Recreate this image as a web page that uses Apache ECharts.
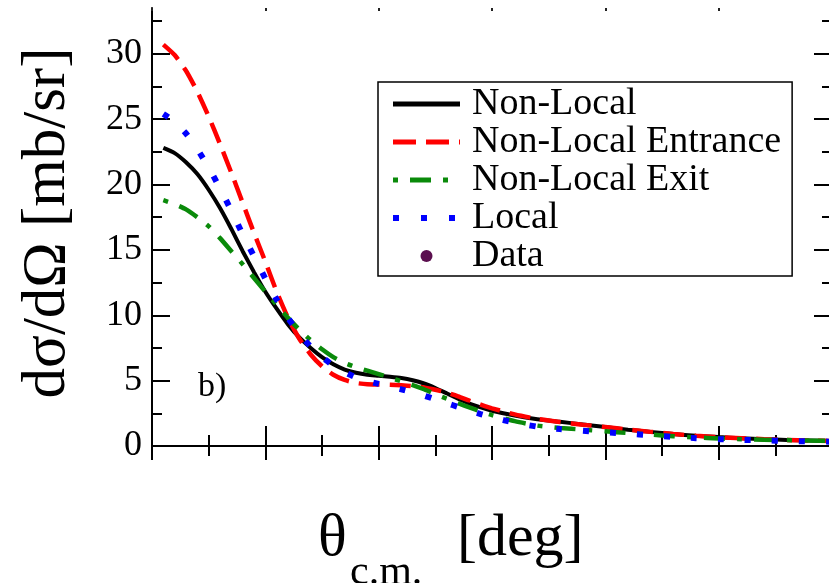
<!DOCTYPE html>
<html>
<head>
<meta charset="utf-8">
<script src="https://cdn.jsdelivr.net/npm/echarts@6/dist/echarts.min.js"></script>
<style>
  html, body { margin: 0; padding: 0; background: #fff; }
  #chart { width: 829px; height: 583px; }
</style>
</head>
<body>
<div id="chart"></div>
<script>
// Scattering angle in the centre-of-mass frame (deg)
const angles = [1, 2, 3, 4, 5, 6, 7, 8, 9, 10, 11, 12, 13, 14, 15, 16, 17, 18, 19, 20,
  21, 22, 23, 24, 25, 26, 27, 28, 29, 30, 32, 34, 36, 38, 40, 42, 44, 46, 48, 50,
  52, 54, 56, 58, 60];

// Differential cross sections (mb/sr)
const nonLocal = [22.8, 22.4, 21.7, 20.8, 19.6, 18.2, 16.6, 14.9, 13.3, 11.8, 10.5, 9.3, 8.3, 7.5, 6.8,
  6.25, 5.85, 5.6, 5.45, 5.38, 5.3, 5.2, 5.03, 4.78, 4.43, 4.03, 3.62, 3.25, 2.95, 2.7,
  2.33, 2.05, 1.85, 1.65, 1.45, 1.25, 1.08, 0.92, 0.78, 0.68, 0.6, 0.52, 0.46, 0.42, 0.38];

const nonLocalEntrance = [30.7, 29.9, 28.7, 27.1, 25.2, 23.1, 20.9, 18.6, 16.3, 14.1, 11.8, 9.8, 8.2, 7.0, 6.1,
  5.45, 5.05, 4.82, 4.72, 4.7, 4.68, 4.64, 4.58, 4.48, 4.3, 4.08, 3.8, 3.48, 3.17, 2.88,
  2.42, 2.07, 1.83, 1.63, 1.45, 1.26, 1.08, 0.92, 0.78, 0.68, 0.6, 0.52, 0.46, 0.42, 0.38];

const nonLocalExit = [18.8, 18.5, 18.1, 17.5, 16.8, 15.9, 14.9, 13.9, 12.85, 11.8, 10.8, 9.8, 8.9, 8.1, 7.4,
  6.8, 6.35, 6.02, 5.76, 5.5, 5.22, 4.95, 4.66, 4.34, 3.97, 3.62, 3.28, 2.95, 2.64, 2.36,
  1.9, 1.56, 1.38, 1.25, 1.12, 0.99, 0.87, 0.75, 0.65, 0.58, 0.52, 0.48, 0.45, 0.42, 0.4];

const local = [25.4, 24.8, 23.9, 22.7, 21.3, 19.7, 18.0, 16.2, 14.5, 12.8, 11.2, 9.8, 8.6, 7.6, 6.8,
  6.15, 5.65, 5.25, 4.97, 4.75, 4.55, 4.33, 4.1, 3.85, 3.57, 3.28, 2.99, 2.7, 2.44, 2.2,
  1.78, 1.48, 1.3, 1.17, 1.05, 0.94, 0.82, 0.7, 0.6, 0.52, 0.47, 0.43, 0.38, 0.35, 0.33];

// No measured points are plotted in this panel
const measured = [];

// Tick values
const yMajorTicks = [0, 5, 10, 15, 20, 25, 30];
const yMinorTicks = [2.5, 7.5, 12.5, 17.5, 22.5, 27.5, 32.5];

// Dash patterns
const dashEntrance = [21, 10];
const dashExit = [5, 12, 21, 12];
const dashLocal = [6, 21];

const serif = "'Liberation Serif', 'Times New Roman', serif";
const pairs = (ys) => angles.map((a, i) => [a, ys[i]]);

const chart = echarts.init(document.getElementById('chart'), null, { renderer: 'canvas' });

const yCommon = { type: 'value', min: 0, max: 33.5, splitLine: { show: false } };
const xCommon = { type: 'value', min: 0, max: 60, interval: 10, splitLine: { show: false }, minorSplitLine: { show: false } };
const black = '#000';

chart.setOption({
  animation: false,
  backgroundColor: '#fff',
  grid: { left: 152, top: 8, right: -3, bottom: 137, outerBoundsMode: 'none', containLabel: false },
  xAxis: [
    Object.assign({}, xCommon, {
      position: 'bottom',
      axisLine: { show: true, onZero: false, lineStyle: { color: black, width: 2 } },
      axisTick: { show: true, inside: true, length: 20, lineStyle: { color: black, width: 2 } },
      minorTick: { show: true, splitNumber: 2, length: 11, lineStyle: { color: black, width: 2 } },
      axisLabel: { show: false }
    }),
    Object.assign({}, xCommon, {
      position: 'bottom',
      axisLine: { show: false, onZero: false },
      axisTick: { show: true, inside: false, length: 14, lineStyle: { color: black, width: 2 } },
      minorTick: { show: true, splitNumber: 2, length: 10, lineStyle: { color: black, width: 2 } },
      axisLabel: { show: false }
    }),
    Object.assign({}, xCommon, {
      position: 'top',
      axisLine: { show: false, onZero: false },
      axisTick: { show: true, inside: true, length: 3, lineStyle: { color: '#222', width: 2 } },
      axisLabel: { show: false }
    })
  ],
  yAxis: [
    Object.assign({}, yCommon, {
      position: 'left',
      axisLine: { show: true, onZero: false, lineStyle: { color: black, width: 2 } },
      axisTick: { show: true, inside: true, length: 18, customValues: yMajorTicks, lineStyle: { color: black, width: 2 } },
      axisLabel: { show: true, customValues: yMajorTicks, margin: 10, color: black, fontFamily: serif, fontSize: 36 }
    }),
    Object.assign({}, yCommon, {
      position: 'left',
      axisLine: { show: false, onZero: false },
      axisTick: { show: true, inside: true, length: 10, customValues: yMinorTicks, lineStyle: { color: black, width: 2 } },
      axisLabel: { show: false }
    }),
    Object.assign({}, yCommon, {
      position: 'right',
      axisLine: { show: true, onZero: false, lineStyle: { color: black, width: 2 } },
      axisTick: { show: true, inside: true, length: 18, customValues: yMajorTicks, lineStyle: { color: black, width: 2 } },
      axisLabel: { show: false }
    }),
    Object.assign({}, yCommon, {
      position: 'right',
      axisLine: { show: false, onZero: false },
      axisTick: { show: true, inside: true, length: 10, customValues: yMinorTicks, lineStyle: { color: black, width: 2 } },
      axisLabel: { show: false }
    })
  ],
  legend: {
    orient: 'vertical',
    left: 378,
    top: 82,
    padding: [3, 11, 1, 12],
    itemGap: 0,
    itemWidth: 67,
    itemHeight: 12,
    borderColor: black,
    borderWidth: 1.5,
    borderRadius: 0,
    backgroundColor: '#fff',
    selectedMode: false,
    textStyle: { color: black, fontFamily: serif, fontSize: 38, lineHeight: 35, padding: [0, 0, 0, 7] },
    data: [
      { name: 'Non-Local', itemStyle: { opacity: 0 }, lineStyle: { width: 5, color: '#000', type: 'solid' } },
      { name: 'Non-Local Entrance', itemStyle: { opacity: 0 }, lineStyle: { width: 5, color: '#ff0000', type: [23, 10] } },
      { name: 'Non-Local Exit', itemStyle: { opacity: 0 }, lineStyle: { width: 5, color: '#0a8a0a', type: dashExit } },
      { name: 'Local', itemStyle: { opacity: 0 }, lineStyle: { width: 6, color: '#0000ff', type: [6, 22] } },
      { name: 'Data', itemStyle: { opacity: 1, color: '#5b0f4f' } }
    ]
  },
  series: [
    {
      name: 'Non-Local', type: 'line', data: pairs(nonLocal), symbol: 'none', smooth: 0.2,
      lineStyle: { color: '#000', width: 4 }, itemStyle: { color: '#000' }
    },
    {
      name: 'Non-Local Entrance', type: 'line', data: pairs(nonLocalEntrance), symbol: 'none', smooth: 0.2,
      lineStyle: { color: '#ff0000', width: 4.5, type: dashEntrance }, itemStyle: { color: '#ff0000' }
    },
    {
      name: 'Non-Local Exit', type: 'line', data: pairs(nonLocalExit), symbol: 'none', smooth: 0.2,
      lineStyle: { color: '#0a8a0a', width: 4.5, type: dashExit }, itemStyle: { color: '#0a8a0a' }
    },
    {
      name: 'Local', type: 'line', data: pairs(local), symbol: 'none', smooth: 0.2,
      lineStyle: { color: '#0000ff', width: 6, type: dashLocal }, itemStyle: { color: '#0000ff' }
    },
    {
      name: 'Data', type: 'scatter', data: measured, symbol: 'circle', symbolSize: 10,
      itemStyle: { color: '#5b0f4f', opacity: 1 }
    }
  ],
  graphic: [
    {
      type: 'text', x: 48, y: 223, rotation: Math.PI / 2, silent: true,
      style: { text: 'dσ/dΩ [mb/sr]', fontFamily: serif, fontSize: 61, fill: black, align: 'center', verticalAlign: 'middle' }
    },
    {
      type: 'text', x: 318, y: 539, silent: true,
      style: { text: 'θ', fontFamily: serif, fontSize: 60, fill: black, align: 'left', verticalAlign: 'middle' }
    },
    {
      type: 'text', x: 350, y: 573, silent: true,
      style: { text: 'c.m.', fontFamily: serif, fontSize: 42, fill: black, align: 'left', verticalAlign: 'middle' }
    },
    {
      type: 'text', x: 457, y: 539, silent: true,
      style: { text: '[deg]', fontFamily: serif, fontSize: 60, fill: black, align: 'left', verticalAlign: 'middle' }
    },
    {
      type: 'text', x: 198, y: 387, silent: true,
      style: { text: 'b)', fontFamily: serif, fontSize: 34, fill: black, align: 'left', verticalAlign: 'middle' }
    }
  ]
});
</script>
</body>
</html>
